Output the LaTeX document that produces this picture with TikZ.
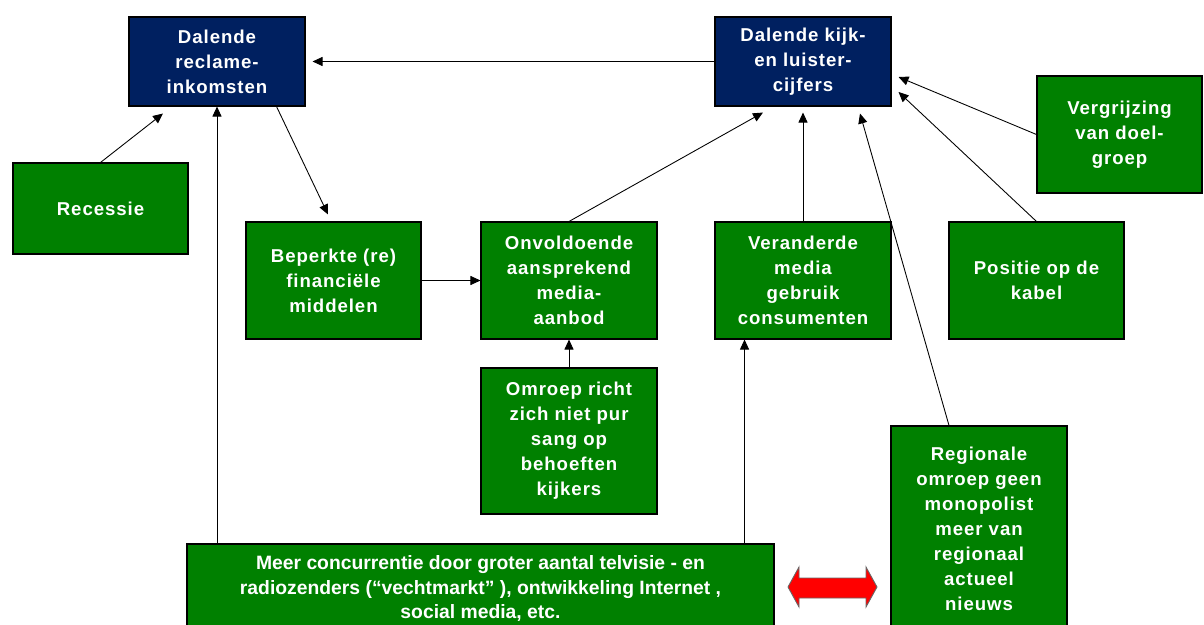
\documentclass[tikz,border=0pt]{standalone}
\usepackage{fontspec}
\setmainfont{Liberation Sans}
\newfontfamily\widefont[LetterSpace=5]{Liberation Sans}
\usetikzlibrary{arrows.meta}

\definecolor{navy}{RGB}{0,32,96}
\definecolor{leaf}{RGB}{0,128,0}
\newcommand{\pu}{0.02cm}

\tikzset{
  box/.style={draw=black, line width=0.6pt, fill=leaf, text=white, align=center,
    inner sep=0pt, font=\widefont\fontsize{10.6}{14.2}\selectfont\bfseries},
  topbox/.style={box, fill=navy},
  longbox/.style={box, font=\fontsize{11}{14.2}\selectfont\bfseries},
  arr/.style={-{Triangle[length=0.2cm,width=0.18cm]}, line width=0.5pt},
}

\begin{document}
\begin{tikzpicture}[x=0.02cm, y=-0.02cm]
\useasboundingbox (0,0) rectangle (1204,625);
\clip (0,0) rectangle (1204,625);

\node (recl) at (217, 61.5) [topbox, minimum width=176*\pu, minimum height=89*\pu]{Dalende\\reclame-\\inkomsten};
\node (kijk) at (803, 61.5) [topbox, minimum width=176*\pu, minimum height=89*\pu]{Dalende kijk-\\en luister-\\cijfers};

\node (vergr) at (1119.5, 134.5) [box, minimum width=165*\pu, minimum height=117*\pu]{Vergrijzing\\van doel-\\groep};
\node (recessie) at (100.5, 208.5) [box, minimum width=175*\pu, minimum height=91*\pu]{Recessie};

\node (beperkt) at (333.5, 280.5) [box, minimum width=175*\pu, minimum height=117*\pu]{Beperkte (re)\\financiële\\middelen};
\node (onvold) at (569, 280.5) [box, minimum width=176*\pu, minimum height=117*\pu]{Onvoldoende\\aansprekend\\media-\\aanbod};
\node (verand) at (803, 280.5) [box, minimum width=176*\pu, minimum height=117*\pu]{Veranderde\\media\\gebruik\\consumenten};
\node (positie) at (1036.5, 280.5) [box, minimum width=175*\pu, minimum height=117*\pu]{Positie op de\\kabel};

\node (omroep) at (569, 441) [box, minimum width=176*\pu, minimum height=146*\pu]{Omroep richt\\zich niet pur\\sang op\\behoeften\\kijkers};
\node (regio) at (979, 529) [box, minimum width=176*\pu, minimum height=206*\pu]{Regionale\\omroep geen\\monopolist\\meer van\\regionaal\\actueel\\nieuws};
\node (concur) at (480.5, 588.5) [longbox, minimum width=587*\pu, minimum height=89*\pu]{Meer concurrentie door groter aantal telvisie - en\\radiozenders (“vechtmarkt” ), ontwikkeling Internet ,\\social media, etc.};

\draw [arr] (kijk.west) -- ([xshift=7*\pu]recl.east);
\draw [arr] (recessie.north) -- ([xshift=-54*\pu, yshift=-7*\pu]recl.south);
\draw [arr] (recl.south |- concur.north) -- (recl.south);
\draw [arr] ([xshift=-29*\pu]recl.south east) -- ([xshift=-5.5*\pu, yshift=7*\pu]beperkt.north);

\draw [arr] (beperkt.east) -- (onvold.west);
\draw [arr] (omroep.north) -- (onvold.south);

\draw [arr] (onvold.north) -- ([xshift=-40*\pu, yshift=-6*\pu]kijk.south);
\draw [arr] (verand.north) -- ([yshift=-6*\pu]kijk.south);
\draw [arr] ([xshift=-30*\pu]regio.north) -- ([xshift=57*\pu, yshift=-7*\pu]kijk.south);
\draw [arr] (positie.north) -- ([xshift=7*\pu, yshift=-30.5*\pu]kijk.east);
\draw [arr] (vergr.west) -- ([xshift=7*\pu, yshift=-15.5*\pu]kijk.east);

\draw [arr] ([xshift=-30*\pu]concur.north east) -- ([xshift=-30*\pu]concur.north east |- verand.south);

% dubbele pijl
\draw [draw=black!60, fill=red, line width=0.5pt] (788,587) -- (799,567) -- (799,578) -- (866,578) -- (866,567) -- (877,587) -- (866,607) -- (866,598) -- (799,598) -- (799,607) -- cycle;

\end{tikzpicture}
\end{document}
